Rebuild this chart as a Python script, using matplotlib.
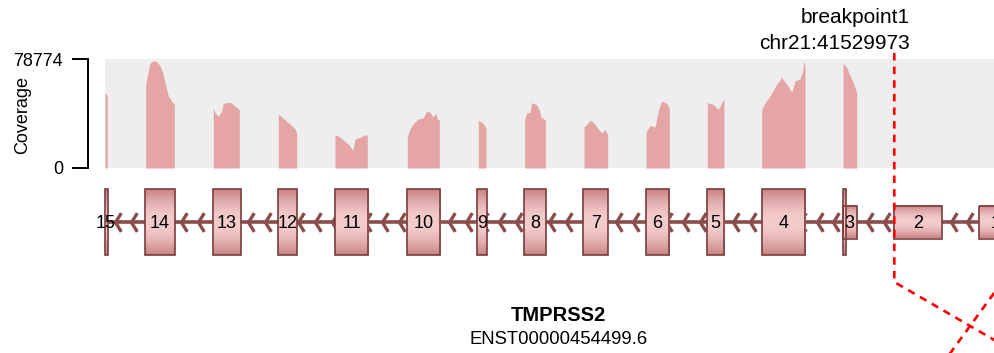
import numpy as np
import matplotlib
matplotlib.use("Agg")
import matplotlib.pyplot as plt
from matplotlib.patches import Rectangle
from matplotlib.path import Path

plt.rcParams['font.family'] = ['Liberation Sans', 'DejaVu Sans']
plt.rcParams['lines.scale_dashes'] = False

# ---------------- data ----------------
gene_name = "TMPRSS2"
transcript_id = "ENST00000454499.6"
breakpoint_label = "breakpoint1"
breakpoint_pos = "chr21:41529973"
coverage_max = 78774

exon_numbers = [15, 14, 13, 12, 11, 10, 9, 8, 7, 6, 5, 4, 3, 2, 1]
exon_left = [104.5, 145.0, 212.7, 278.3, 335.0, 406.7, 477.3, 524.0, 583.3, 645.7, 706.7, 761.7, 842.7, 894.3, 979.3]
exon_right = [107.5, 175.0, 240.7, 296.7, 368.3, 440.0, 486.7, 545.7, 608.3, 669.0, 724.0, 805.0, 856.7, 941.7, 1012.0]
cds_left = [104.5, 145.0, 212.7, 278.3, 335.0, 406.7, 477.3, 524.0, 583.3, 645.7, 706.7, 761.7, 842.7, np.nan, np.nan]
cds_right = [107.5, 175.0, 240.7, 296.7, 368.3, 440.0, 486.7, 545.7, 608.3, 669.0, 724.0, 805.0, 845.7, np.nan, np.nan]
breakpoint_x = 894.3

# coverage profiles (position, reads) per covered exon
cov_x = [
    [105.0, 107.3],
    [145.7, 146.7, 148.3, 150.0, 153.3, 156.7, 160.0, 162.7, 165.0, 168.3, 171.7, 174.3],
    [213.3, 215.0, 218.3, 221.7, 223.3, 230.0, 235.0, 239.3],
    [278.3, 281.7, 286.7, 291.7, 295.0, 296.7],
    [335.0, 340.0, 345.0, 350.0, 352.7, 355.0, 360.0, 363.3, 367.3],
    [407.3, 410.0, 413.3, 418.3, 423.3, 426.7, 430.0, 432.7, 436.0, 437.3, 439.3],
    [478.3, 482.7, 486.0],
    [524.7, 526.7, 530.0, 531.7, 536.7, 539.3, 541.0, 545.3],
    [584.0, 586.7, 590.0, 593.3, 596.7, 601.7, 605.0, 607.7],
    [646.0, 650.0, 655.0, 658.3, 661.7, 666.7, 669.3],
    [707.3, 713.3, 718.3, 721.7, 724.0],
    [761.7, 765.0, 770.0, 776.7, 781.7, 786.7, 791.7, 795.0, 800.0, 802.7, 804.0, 805.0],
    [843.0, 846.7, 850.0, 853.3, 856.7],
]
cov_reads = [
    [54400, 52000],
    [60600, 64200, 70300, 75900, 77500, 76800, 73900, 69100, 61800, 52000, 48400, 45900],
    [43600, 39900, 37400, 41100, 46700, 47700, 44700, 42300],
    [38700, 36900, 33800, 30600, 28200, 25300],
    [24100, 22400, 19200, 16100, 12400, 20900, 22100, 23500, 24100],
    [22800, 28200, 32000, 35500, 36200, 41100, 40300, 36900, 39400, 35500, 34500],
    [34300, 32600, 28900],
    [35500, 39900, 40300, 47200, 45700, 41800, 36900, 34500],
    [29700, 31400, 34500, 33100, 29700, 25300, 27700, 24100],
    [25800, 30600, 29700, 41800, 48400, 46700, 43600],
    [47200, 45900, 42300, 47200, 50100],
    [42300, 47200, 52000, 60600, 65400, 60600, 55000, 62900, 64200, 70300, 77500, 73900],
    [75900, 72700, 66600, 61800, 54400],
]

# ---------------- style / layout ----------------
W, H = 994, 353
TRACK_Y = 222
CDS_HALF = 33
UTR_HALF = 16.5
COV_TOP, COV_BOTTOM, COV_LEFT = 59, 168, 105

border_col = '#7a3c3c'
line_col = '#8b4c4c'
cov_col = '#e5a5a5'
bg_col = '#eeeeee'

fig = plt.figure(figsize=(W / 100, H / 100), dpi=100)

# coverage track
cov = fig.add_axes([COV_LEFT / W, 1 - COV_BOTTOM / H, (W - COV_LEFT) / W, (COV_BOTTOM - COV_TOP) / H])
cov.set_facecolor(bg_col)
for xs, ys in zip(cov_x, cov_reads):
    cov.fill_between(xs, 0, ys, color=cov_col, lw=0)
cov.set_xlim(COV_LEFT, W)
cov.set_ylim(0, coverage_max)
for s in ['top', 'right', 'bottom']:
    cov.spines[s].set_visible(False)
cov.spines['left'].set_position(('outward', 12.2))
cov.spines['left'].set_bounds(0, coverage_max)
cov.spines['left'].set_linewidth(1.4)
cov.set_xticks([])
cov.set_yticks([0, coverage_max])
cov.set_yticklabels(['0', str(coverage_max)])
cov.tick_params(axis='y', length=11.5, width=1.4, pad=6.5, labelsize=13)

# main drawing axes (pixel-like coordinates)
ax = fig.add_axes([0, 0, 1, 1])
ax.patch.set_alpha(0)
ax.axis('off')

ax.text(23, (COV_TOP + COV_BOTTOM) / 2 + 1, 'Coverage', rotation=90, ha='center', va='center', fontsize=13)

# intron line with strand chevrons
gene_start, gene_end = min(exon_left), max(exon_right)
ax.plot([gene_start, gene_end], [TRACK_Y, TRACK_Y], color=line_col, lw=2.6, zorder=2, solid_capstyle='butt')
chevron = Path([(0.62, 1.0), (0.0, 0.0), (0.62, -1.0)], [Path.MOVETO, Path.LINETO, Path.LINETO])
chev_x = np.arange(exon_right[0] + 7.0, gene_end, 16.72)
ax.plot(chev_x, np.full_like(chev_x, TRACK_Y), ls='none', marker=chevron, ms=13.5,
        mfc='none', mec=line_col, mew=2.4, zorder=2)

# exon boxes with vertical gradient
t = np.linspace(0, 1, 64)
prof = np.sin(np.pi * t)
edge_rgb = np.array([0.79, 0.52, 0.52])
mid_rgb = np.array([0.955, 0.80, 0.80])
grad = (edge_rgb[None, :] * (1 - prof[:, None]) + mid_rgb[None, :] * prof[:, None])[:, None, :]


def draw_box(l, r, half):
    ax.imshow(grad, extent=(l, r, TRACK_Y + half, TRACK_Y - half), aspect='auto',
              interpolation='bilinear', zorder=3)
    ax.add_patch(Rectangle((l, TRACK_Y - half), r - l, 2 * half, fill=False,
                           ec=border_col, lw=1.2, zorder=4))


for num, l, r, cl, cr in zip(exon_numbers, exon_left, exon_right, cds_left, cds_right):
    has_cds = not np.isnan(cl)
    if (not has_cds) or cl > l or cr < r:
        draw_box(l, r, UTR_HALF)
    if has_cds:
        draw_box(cl, cr, CDS_HALF)
    ax.text((l + r) / 2, TRACK_Y + 1, str(num), ha='center', va='center', fontsize=13, zorder=6)

# breakpoint line
ax.plot([breakpoint_x, breakpoint_x, 1060], [53, 282, 282 + (1060 - breakpoint_x) * 0.58],
        color='#ff0000', lw=1.9, dashes=(5.4, 4.4), zorder=7, dash_joinstyle='round')
# crossing line from the partner gene
ax.plot([935, 1020], [374, 374 - 85 * 1.37], color='#ff0000', lw=1.9, dashes=(5.4, 4.4), zorder=7)

ax.text(910, 23, breakpoint_label, ha='right', va='baseline', fontsize=15)
ax.text(910, 49, breakpoint_pos, ha='right', va='baseline', fontsize=15)

gene_center_x = (gene_start + gene_end) / 2
ax.text(gene_center_x, 321, gene_name, ha='center', va='baseline', fontsize=14.5, fontweight='bold')
ax.text(gene_center_x, 344, transcript_id, ha='center', va='baseline', fontsize=13.3)

ax.set_xlim(0, W)
ax.set_ylim(H, 0)

fig.savefig('out.png', dpi=100)
